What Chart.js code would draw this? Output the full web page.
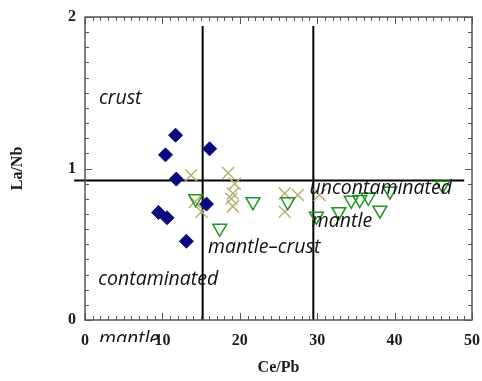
<!DOCTYPE html>
<html>
<head>
<meta charset="utf-8">
<script src="https://cdn.jsdelivr.net/npm/chart.js@4"></script>
<style>
  body { margin: 0; background: #fff; }
  #wrap { width: 482px; height: 381px; }
</style>
</head>
<body>
<div id="wrap"><canvas id="c" width="482" height="381"></canvas></div>
<script>
// Ce/Pb vs La/Nb data
var diamond_x = [11.7, 10.4, 16.1, 11.8, 9.5, 10.6, 15.7, 13.1];
var diamond_y = [1.22, 1.09, 1.13, 0.93, 0.71, 0.675, 0.765, 0.52];

var cross_x = [13.7, 18.5, 19.35, 19.1, 18.9, 19.1, 14.2, 15.05, 25.8, 27.5, 25.8, 30.3];
var cross_y = [0.955, 0.97, 0.9, 0.835, 0.80, 0.75, 0.78, 0.715, 0.835, 0.825, 0.715, 0.825];

var tri_x = [14.3, 21.7, 17.4, 26.2, 29.9, 32.8, 34.4, 35.5, 36.6, 38.1, 39.4, 46.2];
var tri_y = [0.80, 0.78, 0.605, 0.78, 0.685, 0.715, 0.79, 0.795, 0.81, 0.725, 0.85, 0.89];

// boundary lines
var h_line = [[-1.4, 0.92], [49.0, 0.92]];
var v_line_1 = [[15.2, 1.94], [15.2, 0]];
var v_line_2 = [[29.5, 1.94], [29.5, 0]];

var x_ticks = [0, 10, 20, 30, 40, 50];
var y_ticks = [0, 1, 2];

var region_labels = [
    {text: "crust", x: 1.8, y: 1.46},
    {text: "contaminated", x: 1.7, y: 0.27},
    {text: "mantle", x: 1.8, y: -0.13},
    {text: "mantle\u2013crust", x: 15.9, y: 0.48},
    {text: "uncontaminated", x: 29.0, y: 0.87},
    {text: "mantle", x: 29.3, y: 0.65}
];

function to_points(xs, ys){
    var pts = [];
    for (let i = 0; i < xs.length; i++){
        pts.push({x: xs[i], y: ys[i]});
    }
    return pts;
}

function line_set(pts){
    return {
        type: 'line',
        data: pts.map(p => ({x: p[0], y: p[1]})),
        borderColor: '#000',
        borderWidth: 2,
        pointRadius: 0,
        showLine: true,
        fill: false,
        clip: false
    };
}

// minor ticks on all four sides + region text
var deco = {
    id: 'deco',
    afterDraw(chart){
        var ctx = chart.ctx;
        var xs = chart.scales.x, ys = chart.scales.y;
        var a = chart.chartArea;
        ctx.save();
        ctx.strokeStyle = '#555';
        ctx.lineWidth = 1;
        ctx.beginPath();
        for (let v = 0; v <= 50; v++){
            let px = Math.round(xs.getPixelForValue(v)) + 0.5;
            let len = (v % 10 == 0) ? 7 : 4;
            ctx.moveTo(px, a.bottom); ctx.lineTo(px, a.bottom - len);
            ctx.moveTo(px, a.top); ctx.lineTo(px, a.top + len);
        }
        for (let k = 0; k <= 20; k++){
            let py = Math.round(ys.getPixelForValue(k / 10)) + 0.5;
            let len = (k % 10 == 0) ? 7 : 4;
            ctx.moveTo(a.left, py); ctx.lineTo(a.left + len, py);
            ctx.moveTo(a.right, py); ctx.lineTo(a.right - len, py);
        }
        ctx.stroke();
        ctx.lineWidth = 1.5;
        ctx.strokeRect(a.left, a.top, a.right - a.left, a.bottom - a.top);

        // region labels, the one under the axis is cut off like in the source
        ctx.font = 'italic 19.5px "Open Sans", sans-serif';
        ctx.fillStyle = '#111';
        ctx.textBaseline = 'middle';
        for (let i = 0; i < region_labels.length; i++){
            let l = region_labels[i];
            ctx.save();
            ctx.beginPath();
            ctx.rect(0, 0, chart.width, 342);
            ctx.clip();
            ctx.fillText(l.text, xs.getPixelForValue(l.x), ys.getPixelForValue(l.y));
            ctx.restore();
        }
        ctx.restore();
    }
};

var tick_font = {family: '"Liberation Serif", "Times New Roman", serif', size: 16, weight: 'bold'};

var chart = new Chart(document.getElementById('c'), {
    type: 'scatter',
    data: {
        datasets: [
            {
                data: to_points(diamond_x, diamond_y),
                pointStyle: 'rectRot',
                pointRadius: 7,
                backgroundColor: '#0a0a80',
                borderColor: '#0a0a80',
                borderWidth: 1
            },
            {
                data: to_points(tri_x, tri_y),
                pointStyle: 'triangle',
                rotation: 180,
                pointRadius: 8,
                backgroundColor: 'rgba(0,0,0,0)',
                borderColor: '#1c961c',
                borderWidth: 1.5
            },
            {
                data: to_points(cross_x, cross_y),
                pointStyle: 'crossRot',
                pointRadius: 8.5,
                borderColor: '#b8b070',
                borderWidth: 1.5
            },
            line_set(h_line),
            line_set(v_line_1),
            line_set(v_line_2)
        ]
    },
    options: {
        responsive: false,
        animation: false,
        layout: {padding: {top: 17, right: 10, left: 0, bottom: 0}},
        plugins: {legend: {display: false}, tooltip: {enabled: false}},
        scales: {
            x: {
                type: 'linear',
                min: 0, max: 50,
                afterBuildTicks: s => { s.ticks = x_ticks.map(v => ({value: v})); },
                afterFit: s => { s.height = 61; s.paddingLeft = 0; s.paddingRight = 0; },
                grid: {display: false, drawTicks: false},
                border: {display: false},
                ticks: {font: tick_font, color: '#1e1a14', padding: 11, maxRotation: 0},
                title: {display: true, text: 'Ce/Pb', font: tick_font, color: '#1e1a14', padding: {top: 15}}
            },
            y: {
                type: 'linear',
                min: 0, max: 2,
                afterBuildTicks: s => { s.ticks = y_ticks.map(v => ({value: v})); },
                afterFit: s => { s.width = 85; s.paddingTop = 0; s.paddingBottom = 0; },
                grid: {display: false, drawTicks: false},
                border: {display: false},
                ticks: {font: tick_font, color: '#1e1a14', padding: 9},
                title: {display: true, text: 'La/Nb', font: tick_font, color: '#1e1a14', padding: {top: 8}}
            }
        }
    },
    plugins: [deco]
});
</script>
</body>
</html>
